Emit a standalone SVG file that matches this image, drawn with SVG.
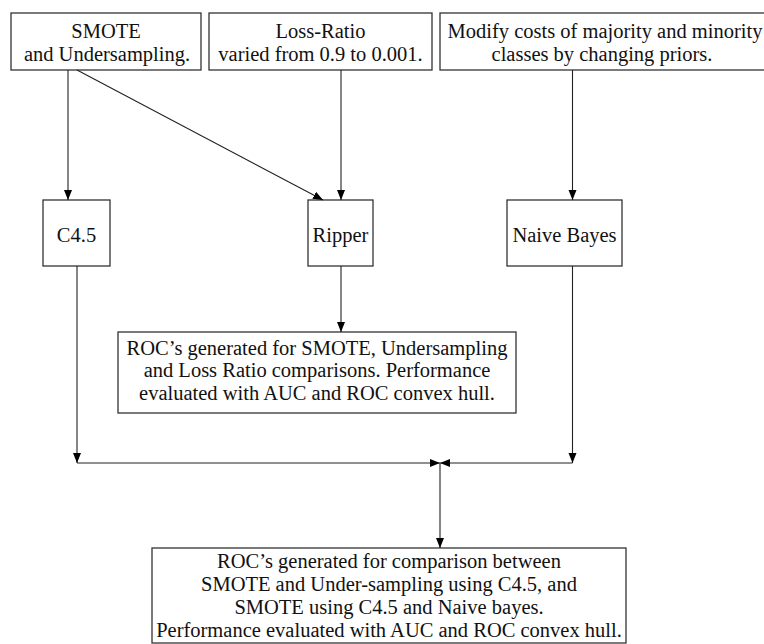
<svg xmlns="http://www.w3.org/2000/svg" width="764" height="644" viewBox="0 0 764 644">
<defs>
<marker id="ah" viewBox="0 0 10 10" refX="10" refY="5" markerWidth="10" markerHeight="10" markerUnits="userSpaceOnUse" orient="auto">
<path d="M0,1 L10,5 L0,9 Z" fill="#000"/>
</marker>
</defs>
<style>
rect{fill:#fff;stroke:#333;stroke-width:1.3}
text{font-family:"Liberation Serif","Times New Roman",serif;font-size:20.5px;fill:#111;text-anchor:middle}
.c line{stroke:#222;stroke-width:1.1;fill:none}
</style>
<rect x="0" y="0" width="764" height="644" style="fill:#fff;stroke:none"/>
<g id="smote"><rect x="11" y="13" width="190" height="57"/><text x="106" y="37.5">SMOTE</text><text x="107" y="60.5">and Undersampling.</text></g>
<g id="lossratio"><rect x="209" y="13" width="223" height="57"/><text x="320.5" y="37.5">Loss-Ratio</text><text x="320.5" y="60.5">varied from 0.9 to 0.001.</text></g>
<g id="costs"><rect x="440" y="13" width="340" height="57"/><text x="605" y="37.5">Modify costs of majority and minority</text><text x="602" y="60.5">classes by changing priors.</text></g>
<g id="c45"><rect x="43" y="200" width="67" height="66"/><text x="76.5" y="241.5">C4.5</text></g>
<g id="ripper"><rect x="308" y="200" width="65" height="66"/><text x="340.5" y="241.5">Ripper</text></g>
<g id="nb"><rect x="507" y="200" width="115" height="66"/><text x="564.5" y="241.5">Naive Bayes</text></g>
<g id="roc1"><rect x="118" y="332" width="398" height="81"/><text x="317" y="355">ROC’s generated for SMOTE, Undersampling</text><text x="317" y="377">and Loss Ratio comparisons. Performance</text><text x="317" y="399.5">evaluated with AUC and ROC convex hull.</text></g>
<g id="roc2"><rect x="152" y="548" width="474" height="95"/><text x="389" y="568">ROC’s generated for comparison between</text><text x="389" y="591">SMOTE and Under-sampling using C4.5, and</text><text x="389" y="614">SMOTE using C4.5 and Naive bayes.</text><text x="389" y="637">Performance evaluated with AUC and ROC convex hull.</text></g>
<g class="c" id="connectors">
<line x1="68" y1="70" x2="68" y2="200" marker-end="url(#ah)"/>
<line x1="77" y1="70" x2="323" y2="200" marker-end="url(#ah)"/>
<line x1="341" y1="70" x2="341" y2="200" marker-end="url(#ah)"/>
<line x1="572.5" y1="70" x2="572.5" y2="200" marker-end="url(#ah)"/>
<line x1="341" y1="266" x2="341" y2="332" marker-end="url(#ah)"/>
<line x1="77" y1="266" x2="77" y2="463" marker-end="url(#ah)"/>
<line x1="572.5" y1="266" x2="572.5" y2="463" marker-end="url(#ah)"/>
<line x1="77" y1="463" x2="440" y2="463" marker-end="url(#ah)"/>
<line x1="572.5" y1="463" x2="440" y2="463" marker-end="url(#ah)"/>
<line x1="440" y1="463" x2="440" y2="548" marker-end="url(#ah)"/>
</g>
</svg>
